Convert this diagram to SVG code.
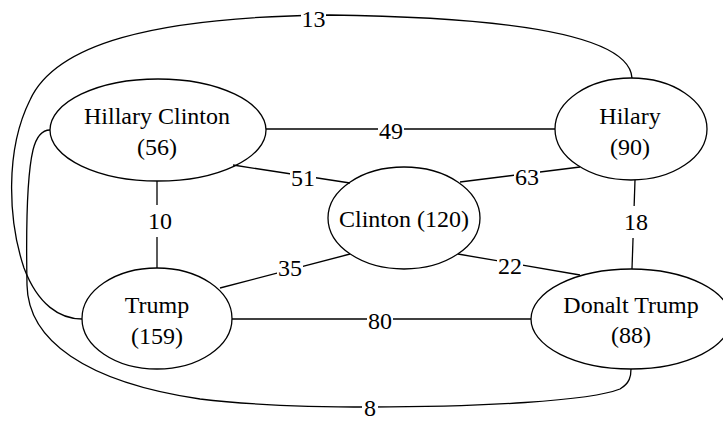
<svg xmlns="http://www.w3.org/2000/svg" width="723" height="421" viewBox="0 0 723 421">
<style>
.n ellipse{fill:none;stroke:#000;stroke-width:1.3}
.e path{fill:none;stroke:#000;stroke-width:1.3}
.bg{fill:#fff}
</style>
<rect width="723" height="421" fill="#fff"/>
<g font-family="Liberation Serif, DejaVu Serif, serif" font-size="24" text-anchor="middle" fill="#000">
<g id="connectors" class="e">
<path d="M632,78 C630,45 560,18 330,15 C150,17 55,45 30,100 C5,150 8,220 24,268 C38,305 60,319 82,319"/>
<path d="M50,130 C42,130 36,138 33,150 C27,175 26,230 27,285 C28,340 85,382 200,399 C250,405 310,407 370,407 C480,407 590,401 620,389 C630,383 631,376 631,369"/>
<path d="M266,129 L555,129"/>
<path d="M233,165 L350,183"/>
<path d="M460,182 L580,167"/>
<path d="M157,181 L157,268"/>
<path d="M635,180 L632,269"/>
<path d="M220,288 L350,254"/>
<path d="M458,254 L580,275"/>
<path d="M232,319 L531,319"/>
<rect class="bg" x="301" y="6" width="25" height="22"/>
<rect class="bg" x="378" y="120" width="26" height="20"/>
<rect class="bg" x="290" y="167" width="26" height="20"/>
<rect class="bg" x="514" y="166" width="26" height="20"/>
<rect class="bg" x="147" y="205" width="26" height="32"/>
<rect class="bg" x="623" y="206" width="26" height="32"/>
<rect class="bg" x="277" y="257" width="26" height="20"/>
<rect class="bg" x="497" y="255" width="26" height="20"/>
<rect class="bg" x="367" y="310" width="26" height="20"/>
<rect class="bg" x="362" y="398" width="16" height="22"/>
<text x="313.5" y="27">13</text>
<text x="391" y="139">49</text>
<text x="303" y="186">51</text>
<text x="527" y="185">63</text>
<text x="160" y="229">10</text>
<text x="636" y="230">18</text>
<text x="290" y="276">35</text>
<text x="510" y="274">22</text>
<text x="380" y="329">80</text>
<text x="370" y="416">8</text>
</g>
<g id="hillary-clinton" class="n">
<ellipse cx="158" cy="130" rx="108" ry="51"/>
<text x="157" y="124">Hillary Clinton</text>
<text x="157" y="155">(56)</text>
</g>
<g id="hilary" class="n">
<ellipse cx="631" cy="129" rx="76" ry="51"/>
<text x="630" y="124">Hilary</text>
<text x="630" y="155">(90)</text>
</g>
<g id="clinton" class="n">
<ellipse cx="404" cy="218" rx="76" ry="51"/>
<text x="404" y="227">Clinton (120)</text>
</g>
<g id="trump" class="n">
<ellipse cx="157" cy="318.5" rx="75" ry="50.5"/>
<text x="157" y="313">Trump</text>
<text x="157" y="344">(159)</text>
</g>
<g id="donalt-trump" class="n">
<ellipse cx="631" cy="319" rx="100" ry="50"/>
<text x="631" y="313">Donalt Trump</text>
<text x="631" y="343">(88)</text>
</g>
</g>
</svg>
